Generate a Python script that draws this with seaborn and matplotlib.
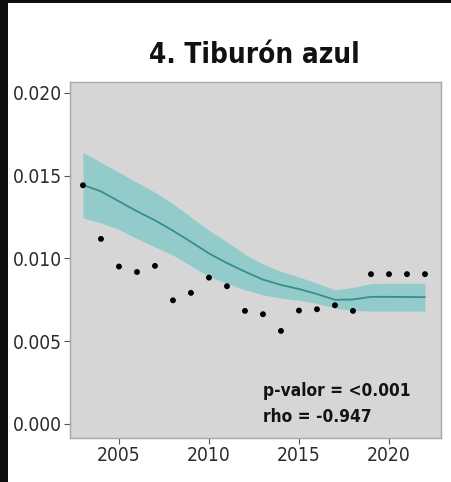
import matplotlib
matplotlib.use("Agg")
import matplotlib.pyplot as plt
from matplotlib.patches import Rectangle
from matplotlib import font_manager
from matplotlib.textpath import TextPath
import seaborn as sns
import pandas as pd

# Annual blue shark values and smoothed trend with its confidence band
years = list(range(2003, 2023))
cpue = [0.01442, 0.01118, 0.00951, 0.00918, 0.00955, 0.00747, 0.00792, 0.00884,
        0.00832, 0.00683, 0.00663, 0.00562, 0.00685, 0.00693, 0.00717, 0.00683,
        0.00905, 0.00905, 0.00905, 0.00905]
trend = [0.01444, 0.01405, 0.01345, 0.01285, 0.01230, 0.01168, 0.01100, 0.01030,
         0.00972, 0.00920, 0.00872, 0.00840, 0.00815, 0.00785, 0.00750, 0.00752,
         0.00768, 0.00768, 0.00767, 0.00766]
trend_lo = [0.01245, 0.01215, 0.01175, 0.01120, 0.01070, 0.01020, 0.00955, 0.00890,
            0.00850, 0.00810, 0.00780, 0.00760, 0.00748, 0.00728, 0.00700, 0.00685,
            0.00682, 0.00682, 0.00682, 0.00682]
trend_hi = [0.01640, 0.01580, 0.01520, 0.01460, 0.01400, 0.01330, 0.01250, 0.01170,
            0.01100, 0.01025, 0.00965, 0.00922, 0.00888, 0.00850, 0.00810, 0.00825,
            0.00848, 0.00850, 0.00850, 0.00850]

y_ticks = [0.000, 0.005, 0.010, 0.015, 0.020]
y_tick_labels = ["0.000", "0.005", "0.010", "0.015", "0.020"]
x_ticks = [2005, 2010, 2015, 2020]
x_tick_labels = ["2005", "2010", "2015", "2020"]
title = "4. Tiburón azul"
stats_lines = ["p-valor = <0.001", "rho = -0.947"]

df = pd.DataFrame({"year": years, "cpue": cpue, "trend": trend,
                   "lo": trend_lo, "hi": trend_hi})

sns.set_theme(style="ticks")
plt.rcParams["font.family"] = ["Liberation Sans", "DejaVu Sans"]


def condensed_face(bold):
    """Pick an installed upright, moderately condensed sans face."""
    found = []
    for f in font_manager.fontManager.ttflist:
        tag = (f.name + " " + f.fname + " " + str(f.stretch)).lower()
        if not any(k in tag for k in ("narrow", "condensed")):
            continue
        if any(k in tag for k in ("extra", "ultra", "mono", "italic", "oblique",
                                  "light", "black", "thin", "semibold", "medium")):
            continue
        if f.style != "normal":
            continue
        if "serif" in f.name.lower() and "sans" not in f.name.lower():
            continue
        w = f.weight if isinstance(f.weight, int) else font_manager.weight_dict.get(f.weight, 400)
        if bold and not 650 <= w <= 750:
            continue
        if not bold and not 350 <= w <= 500:
            continue
        found.append(f.fname)
    return sorted(found)[0] if found else None


reg_file = condensed_face(False)
bold_file = condensed_face(True)


def base_prop(bold):
    path = bold_file if bold else reg_file
    if path:
        return font_manager.FontProperties(fname=path)
    return font_manager.FontProperties(family=["Liberation Sans", "DejaVu Sans"],
                                       weight="bold" if bold else "normal")


def fitted(bold, text, width_px, height_px):
    """Font properties sized to balance a target text width and digit height."""
    prop = base_prop(bold)
    prop.set_size(100)
    ext_w = TextPath((0, 0), text, prop=prop).get_extents().width / 100
    ext_h = TextPath((0, 0), "0", prop=prop).get_extents().height / 100
    px_per_pt = 100 / 72
    s_w = width_px / (ext_w * px_per_pt)
    s_h = height_px / (ext_h * px_per_pt)
    prop = base_prop(bold)
    prop.set_size(s_w ** 0.6 * s_h ** 0.4)
    return prop


tick_prop = fitted(False, "0.000", 44, 16)
stat_prop = fitted(True, stats_lines[0], 133, 15)
title_prop = fitted(True, title, 180, 26)

W, H = 452, 482
fig = plt.figure(figsize=(W / 100, H / 100), dpi=100, facecolor="white")

# dark frame strips along the left and top edges
fig.patches.append(Rectangle((0, 0), 8 / W, 1, transform=fig.transFigure,
                             facecolor="#0e0e0e", edgecolor="none", zorder=10))
fig.patches.append(Rectangle((0, 1 - 3 / H), 1, 3 / H, transform=fig.transFigure,
                             facecolor="#0e0e0e", edgecolor="none", zorder=10))

ax = fig.add_axes([70 / W, 44 / H, 371 / W, 356 / H])
ax.set_facecolor("#d6d6d6")

ax.fill_between(df["year"], df["lo"], df["hi"], color="#93cbcb", lw=0, zorder=1)
sns.lineplot(data=df, x="year", y="trend", color="#378e8e", lw=1.3, ax=ax, zorder=2)
sns.scatterplot(data=df, x="year", y="cpue", color="black", s=18,
                edgecolor="none", ax=ax, zorder=3)

ax.set_xlim(2002.28, 2022.89)
ax.set_ylim(-0.00085, 0.02066)
ax.set_xticks(x_ticks)
ax.set_xticklabels(x_tick_labels, fontproperties=tick_prop)
ax.set_yticks(y_ticks)
ax.set_yticklabels(y_tick_labels, fontproperties=tick_prop)
ax.set_xlabel("")
ax.set_ylabel("")
ax.tick_params(axis="both", which="both", direction="out", length=4, width=0.8,
               color="#555555", labelcolor="#2b2b2b", pad=2,
               bottom=True, left=True)
for side in ["top", "right", "bottom", "left"]:
    ax.spines[side].set_visible(True)
    ax.spines[side].set_color("#a8a8a8")
    ax.spines[side].set_linewidth(1.0)

ax.text(2013.0, 0.00169, stats_lines[0], fontproperties=stat_prop,
        color="#141414", ha="left", va="baseline")
ax.text(2013.0, 0.00012, stats_lines[1], fontproperties=stat_prop,
        color="#141414", ha="left", va="baseline")

fig.text(254 / W, 1 - 63 / H, title, fontproperties=title_prop,
         color="#111111", ha="center", va="baseline")

fig.savefig("out.png", dpi=100, facecolor="white")
